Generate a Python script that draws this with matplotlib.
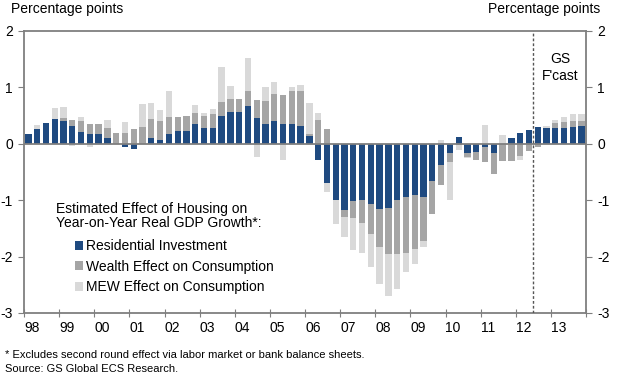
import numpy as np
import matplotlib
matplotlib.use("Agg")
import matplotlib.pyplot as plt
from matplotlib.patches import Patch

plt.rcParams["font.family"] = ["Liberation Sans", "DejaVu Sans"]
plt.rcParams["axes.unicode_minus"] = False

# quarterly, 1998Q1 .. 2013Q4
years = ["98", "99", "00", "01", "02", "03", "04", "05", "06", "07", "08", "09", "10", "11", "12", "13"]
resid = [0.18, 0.27, 0.37, 0.44, 0.40, 0.32, 0.21, 0.18,
         0.18, 0.10, 0.00, -0.06, -0.09, 0.00, 0.11, 0.06,
         0.18, 0.22, 0.22, 0.35, 0.28, 0.28, 0.50, 0.57,
         0.57, 0.67, 0.46, 0.35, 0.41, 0.35, 0.35, 0.32,
         0.13, -0.28, -0.69, -0.99, -1.17, -1.02, -0.99, -1.06,
         -1.15, -1.13, -0.99, -0.94, -0.91, -0.94, -0.66, -0.38,
         -0.16, 0.12, -0.16, -0.15, -0.06, -0.17, 0.00, 0.10,
         0.19, 0.24, 0.30, 0.28, 0.28, 0.28, 0.30, 0.31]
wealth = [0.00, 0.00, 0.00, 0.00, 0.06, 0.11, 0.19, 0.17,
          0.17, 0.18, 0.19, 0.19, 0.27, 0.30, 0.33, 0.35,
          0.29, 0.26, 0.28, 0.20, 0.22, 0.24, 0.24, 0.23,
          0.23, 0.27, 0.32, 0.41, 0.48, 0.52, 0.58, 0.62,
          0.04, 0.43, 0.27, 0.00, -0.13, -0.29, -0.41, -0.54,
          -0.68, -0.83, -0.96, -1.00, -0.96, -0.78, -0.58, -0.35,
          -0.16, -0.03, -0.08, -0.14, -0.26, -0.36, -0.31, -0.30,
          -0.22, -0.12, -0.06, 0.00, 0.09, 0.10, 0.10, 0.10]
mew = [0.00, 0.07, 0.00, 0.19, 0.19, -0.04, 0.07, -0.06,
       0.00, 0.15, 0.00, 0.19, 0.00, 0.40, 0.28, 0.19,
       0.47, 0.00, 0.00, 0.13, 0.05, 0.10, 0.62, 0.22,
       0.00, 0.58, -0.24, 0.25, 0.20, -0.28, 0.07, 0.10,
       0.55, 0.11, -0.17, -0.43, -0.35, -0.58, -0.54, -0.59,
       -0.65, -0.74, -0.62, -0.34, -0.27, -0.11, 0.00, 0.07,
       -0.67, -0.08, -0.02, 0.00, 0.34, 0.00, 0.15, 0.00,
       -0.07, 0.00, 0.00, 0.04, 0.06, 0.09, 0.12, 0.12]
series = [resid, wealth, mew]
names = ["Residential Investment", "Wealth Effect on Consumption", "MEW Effect on Consumption"]
colors = ["#1f4a80", "#a5a5a5", "#d9d9d9"]
fcast_start = 58  # 2012Q3

fig = plt.figure(figsize=(6.2, 3.89), dpi=100)
ax = fig.add_axes([24 / 620, 1 - 313 / 389, 562 / 620, 282 / 389])

x = np.arange(len(resid)) + 0.5
pos_base = np.zeros(len(x)); neg_base = np.zeros(len(x))
for vals, c in zip(series, colors):
    v = np.array(vals)
    b = np.where(v >= 0, pos_base, neg_base)
    ax.bar(x, v, 0.72, bottom=b, color=c, edgecolor="none", zorder=2)
    pos_base += np.clip(v, 0, None); neg_base += np.clip(v, None, 0)

ax.axhline(0, color="#7f7f7f", lw=1.3, zorder=3)
ax.axvline(fcast_start, color="#555555", lw=1.0, ls=(0, (2, 1.5)), zorder=3)
ax.text(fcast_start + 3.1, 1.35, "GS\nF'cast", ha="center", va="center", fontsize=10, linespacing=1.25)

ax.set_xlim(0, len(x)); ax.set_ylim(-3, 2)
ax.set_xticks(np.arange(0, len(x) + 1, 4))
ax.set_xticklabels(years + [""], ha="left", fontsize=10)
ax.set_yticks(range(-3, 3))
ax.tick_params(axis="y", which="both", left=True, right=True, labelleft=True, labelright=True,
               direction="out", length=4, color="#7f7f7f", labelsize=10, pad=4)
ax.tick_params(axis="x", direction="inout", length=6, color="#7f7f7f", pad=3)
for s in ax.spines.values():
    s.set_color("#7f7f7f"); s.set_linewidth(1.3)

fig.text(11 / 620, 1 - 9 / 389, "Percentage points", fontsize=10, va="center")
fig.text(600 / 620, 1 - 9 / 389, "Percentage points", fontsize=10, va="center", ha="right")

# legend: title flush left, entries indented
fig.text(56 / 620, 1 - 216 / 389, "Estimated Effect of Housing on\nYear-on-Year Real GDP Growth*:",
         fontsize=10, va="center", ha="left", linespacing=1.08)
handles = [Patch(facecolor=c, edgecolor="none") for c in colors]
ax.legend(handles, names, loc="upper left", bbox_to_anchor=(75 / 620, 1 - 239 / 389),
          bbox_transform=fig.transFigure, frameon=False, fontsize=10,
          handlelength=0.6, handleheight=0.6, handletextpad=0.2, labelspacing=0.48,
          borderpad=0.0, borderaxespad=0.0)

fig.text(5 / 620, 1 - 355 / 389, "* Excludes second round effect via labor market or bank balance sheets.",
         fontsize=8, va="center")
fig.text(5 / 620, 1 - 369 / 389, "Source: GS Global ECS Research.", fontsize=8, va="center")

fig.savefig("out.png", dpi=100)
